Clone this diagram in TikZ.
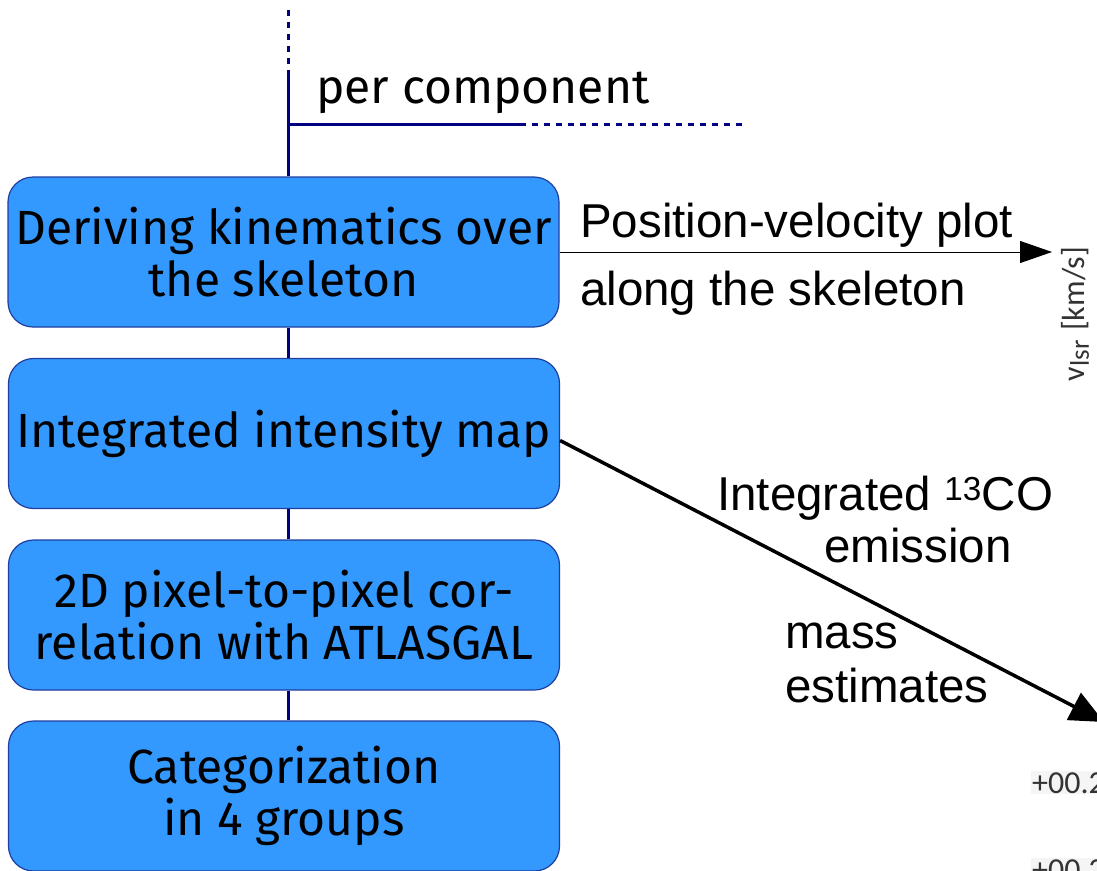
\documentclass[tikz,border=0pt]{standalone}
\usepackage{fontspec}
\setmainfont{Liberation Sans}
\newfontfamily\boxfont{Fira Sans}
\newfontfamily\plotfont{Carlito}
\usetikzlibrary{arrows.meta}
\definecolor{boxblue}{HTML}{3399FF}
\definecolor{navyline}{HTML}{000080}
\definecolor{boxedge}{HTML}{1F3F9F}
\begin{document}
\begin{tikzpicture}[x=1pt,y=-1pt]
\tikzset{
  stage/.style={draw=boxedge, line width=1.2pt, fill=boxblue, rounded corners=25pt,
    minimum width=551pt, minimum height=150pt, align=center, inner sep=0pt,
    font=\boxfont\fontsize{48}{52}\selectfont},
  spine/.style={draw=navyline, line width=3pt},
  spinedash/.style={draw=navyline, line width=3pt, dash pattern=on 6pt off 6pt},
  lbl/.style={font=\fontsize{47.5}{55}\selectfont, inner sep=0pt, anchor=base west},
  plotlbl/.style={font=\plotfont\fontsize{32}{36}\selectfont, text=black!80, inner sep=1pt}
}
\useasboundingbox (0,0) rectangle (1097,870);
\clip (0,0) rectangle (1097,870);

\node[stage] (b1) at (283.5,252) {Deriving kinematics over\\the skeleton};
\node[stage] (b2) at (284,433.5) {Integrated intensity map};
\node[stage] (b3) at (284,615) {2D pixel-to-pixel cor-\\relation with ATLASGAL};
\node[stage] (b4) at (284,796) {Categorization\\in 4 groups};

\coordinate (s0) at (288,10);
\coordinate (s1) at (288,70);
\coordinate (h0) at (288,124);
\coordinate (h1) at (520,124);
\coordinate (h2) at (742,124);
\draw[spinedash] (s0) -- (s1);
\draw[spine] (s1) -- (b1.north -| s1);
\draw[spine] (h0) -- (h1);
\draw[spinedash] (h1) -- (h2);
\draw[spine] (b1.south -| s1) -- (b2.north -| s1);
\draw[spine] (b2.south -| s1) -- (b3.north -| s1);
\draw[spine] (b3.south -| s1) -- (b4.north -| s1);
\node[font=\boxfont\fontsize{48}{52}\selectfont, anchor=base west, inner sep=0pt] (pc) at (316,103) {per component};

\coordinate (pvtip) at (1052,252);
\draw[line width=1pt, -{Triangle[length=32pt, width=22pt]}] (b1.east) -- (pvtip);
\node[lbl] (pv1) at (580,237) {Position-velocity plot};
\node[lbl] (pv2) at (580,305) {along the skeleton};

\coordinate (mtip) at (1104,722);
\draw[line width=3.5pt, -{Triangle[length=34pt, width=30pt]}] ([yshift=-7pt]b2.east) -- (mtip);
\node[lbl] (ie1) at (717,510) {Integrated \textsuperscript{13}CO};
\node[lbl] (ie2) at (824,562) {emission};
\node[lbl] (ms1) at (785,648) {mass};
\node[lbl] (ms2) at (785,702) {estimates};

\node[plotlbl, rotate=90, anchor=base, inner sep=0pt] (vl) at (1084,314) {v\raisebox{-0.15em}{\fontsize{27}{30}\selectfont lsr}\hspace{0.3em}[km/s]};
\node[plotlbl, fill=black!4, anchor=base west] (t1) at (1031,793) {+00.2};
\node[plotlbl, fill=black!4, anchor=base west] (t2) at (1031,880) {+00.2};
\end{tikzpicture}
\end{document}
